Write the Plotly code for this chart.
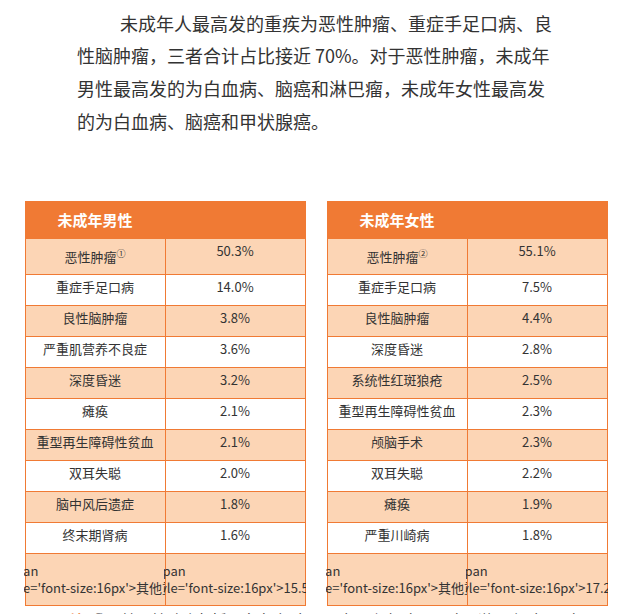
import plotly.graph_objects as go

male_names = ["恶性肿瘤<sup>①</sup>", "重症手足口病", "良性脑肿瘤", "严重肌营养不良症", "深度昏迷",
              "瘫痪", "重型再生障碍性贫血", "双耳失聪", "脑中风后遗症", "终末期肾病", "其他重疾"]
male_vals = ["50.3%", "14.0%", "3.8%", "3.6%", "3.2%", "2.1%", "2.1%", "2.0%", "1.8%", "1.6%", "15.5%"]
female_names = ["恶性肿瘤<sup>②</sup>", "重症手足口病", "良性脑肿瘤", "深度昏迷", "系统性红斑狼疮",
                "重型再生障碍性贫血", "颅脑手术", "双耳失聪", "瘫痪", "严重川崎病", "其他重疾"]
female_vals = ["55.1%", "7.5%", "4.4%", "2.8%", "2.5%", "2.3%", "2.3%", "2.2%", "1.9%", "1.8%", "17.2%"]

orange = "#f07a34"
peach = "#fcd5b5"
fills = [peach if i % 2 == 0 else "white" for i in range(len(male_vals))]


def big_last(col):
    # last row (其他重疾) is printed larger
    return col[:-1] + ["<span style='font-size:16px'>" + col[-1] + "</span>"]


fig = go.Figure()
for title, names, vals, x0, x1 in [("未成年男性", male_names, male_vals, 17, 297),
                                   ("未成年女性", female_names, female_vals, 319, 599)]:
    fig.add_trace(go.Table(
        domain=dict(x=[x0 / 622, x1 / 622], y=[0, 1 - 193 / 614]),
        columnwidth=[1, 1],
        header=dict(values=["<b>" + title + "</b>", ""], fill_color=orange,
                    line_color=orange, height=34,
                    font=dict(color="white", size=15, family="Noto Sans CJK SC"),
                    align="center"),
        cells=dict(values=[big_last(names), big_last(vals)], fill_color=[fills, fills],
                   line=dict(color=orange, width=1), height=31, align="center",
                   font=dict(color="#333333", size=13, family="Noto Sans CJK SC")),
    ))

lines = [
    (110, 15, "未成年人最高发的重疾为恶性肿瘤、重症手足口病、良"),
    (67, 47, "性脑肿瘤，三者合计占比接近 70%。对于恶性肿瘤，未成年"),
    (67, 80, "男性最高发的为白血病、脑癌和淋巴瘤，未成年女性最高发"),
    (67, 113, "的为白血病、脑癌和甲状腺癌。"),
]
for x, y, t in lines:
    fig.add_annotation(x=x / 622, y=1 - y / 614, xref="paper", yref="paper", text=t,
                       showarrow=False, xanchor="left", yanchor="middle",
                       font=dict(size=18, color="#333333", family="Noto Sans CJK SC"))
fig.add_annotation(x=60 / 622, y=1 - 611 / 614, xref="paper", yref="paper",
                   text="<span style='color:#f07a34'><b>注</b></span>  ①男性恶性肿瘤包括：白血病（37.1%）、脑癌（22.1%）、淋巴瘤（8.9%）",
                   showarrow=False, xanchor="left", yanchor="middle",
                   font=dict(size=15, color="#333333", family="Noto Sans CJK SC"))

fig.update_layout(width=622, height=614, margin=dict(l=0, r=0, t=0, b=0),
                  paper_bgcolor="white", plot_bgcolor="white")
fig.write_html("out.html")
